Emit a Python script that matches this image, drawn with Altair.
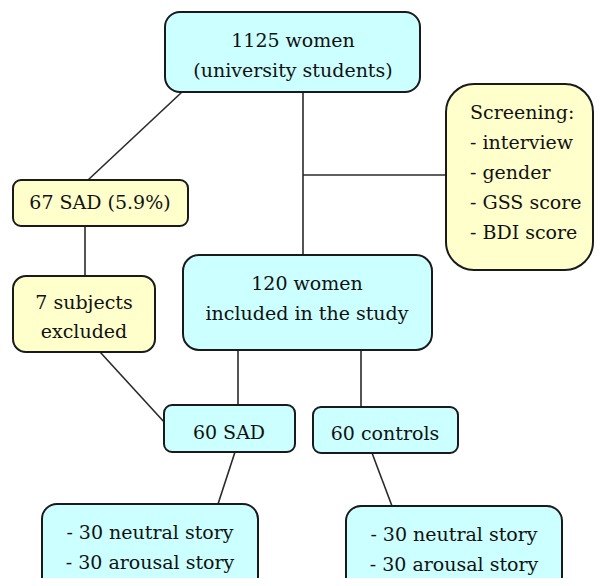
import altair as alt
import pandas as pd

# Boxes (page pixel coordinates of the flowchart layout)
box_name = ["top", "screen", "sad67", "excl", "incl", "sad60", "ctrl", "botL", "botR"]
box_x1 = [165, 446, 13, 13, 183, 164, 313, 42, 346]
box_x2 = [420, 593, 188, 155, 432, 295, 458, 258, 562]
box_y1 = [12, 84, 180, 276, 255, 405, 407, 504, 506]
box_y2 = [92, 270, 226, 352, 350, 452, 453, 600, 600]
box_fill = ["#ccffff", "#ffffcc", "#ffffcc", "#ffffcc", "#ccffff", "#ccffff", "#ccffff", "#ccffff", "#ccffff"]
box_radius = [15, 28, 8, 13, 16, 8, 8, 15, 15]

# Connector lines
line_x1 = [182, 303, 303, 85, 100, 238, 361, 235, 372]
line_y1 = [92, 92, 175, 226, 352, 350, 350, 452, 453]
line_x2 = [88, 303, 446, 85, 165, 238, 361, 218, 392]
line_y2 = [180, 255, 175, 276, 423, 405, 407, 504, 506]

# Texts
txt = ["1125 women", "(university students)",
       "Screening:", "- interview", "- gender", "- GSS score", "- BDI score",
       "67 SAD (5.9%)", "7 subjects", "excluded",
       "120 women", "included in the study",
       "60 SAD", "60 controls",
       "- 30 neutral story", "- 30 arousal story",
       "- 30 neutral story", "- 30 arousal story"]
txt_x = [293, 293, 470, 470, 470, 470, 470, 100, 84, 84, 307, 307, 229, 385, 150, 150, 454, 454]
txt_y = [41, 71, 113, 143, 173, 203, 233, 203, 303, 332, 284, 314, 433, 434, 533, 563, 535, 565]
txt_align = ["center", "center", "left", "left", "left", "left", "left",
             "center", "center", "center", "center", "center", "center", "center",
             "center", "center", "center", "center"]

boxes = pd.DataFrame(dict(name=box_name, x1=box_x1, x2=box_x2, y1=box_y1, y2=box_y2,
                          fill=box_fill, r=box_radius))
lines = pd.DataFrame(dict(x1=line_x1, y1=line_y1, x2=line_x2, y2=line_y2))
texts = pd.DataFrame(dict(t=txt, x=txt_x, y=txt_y, a=txt_align))

W, H = 586, 570
xs = alt.Scale(domain=[8, 594], range=[0, W], nice=False, zero=False)
ys = alt.Scale(domain=[8, 578], range=[0, H], nice=False, zero=False)

rules = alt.Chart(lines).mark_rule(color="#2a2a2a", strokeWidth=1.6, clip=True).encode(
    x=alt.X("x1:Q", scale=xs, axis=None),
    y=alt.Y("y1:Q", scale=ys, axis=None),
    x2="x2:Q", y2="y2:Q")

layers = [rules]
for r in sorted(set(box_radius)):
    sub = boxes[boxes.r == r]
    layers.append(
        alt.Chart(sub).mark_rect(cornerRadius=r, stroke="#1a1a1a", strokeWidth=2, clip=True).encode(
            x=alt.X("x1:Q", scale=xs, axis=None),
            y=alt.Y("y1:Q", scale=ys, axis=None),
            x2="x2:Q", y2="y2:Q",
            fill=alt.Fill("fill:N", scale=None))
    )

for a in ["center", "left"]:
    sub = texts[texts.a == a]
    layers.append(
        alt.Chart(sub).mark_text(align=a, baseline="middle", font="DejaVu Serif",
                                 fontSize=19, color="#111111").encode(
            x=alt.X("x:Q", scale=xs, axis=None),
            y=alt.Y("y:Q", scale=ys, axis=None),
            text="t:N")
    )

chart = alt.layer(*layers).properties(
    width=W, height=H, padding=0, autosize=alt.AutoSizeParams(type="none")
).configure_view(stroke=None)

chart.save("out.html", embed_options={"renderer": "svg", "actions": False})
